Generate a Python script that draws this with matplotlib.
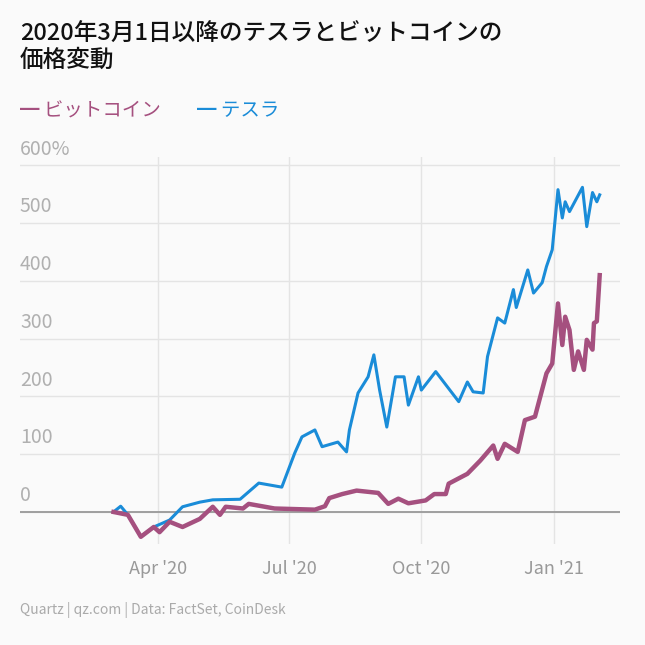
import datetime as dt
import matplotlib
matplotlib.use("Agg")
import matplotlib.pyplot as plt
import matplotlib.dates as mdates

plt.rcParams['font.family'] = ['Noto Sans CJK JP', 'DejaVu Sans']

START = dt.date(2020, 3, 1)
TSLA_DAY = [0, 5, 10, 19, 28, 39, 48, 60, 69, 88, 101, 117, 126, 131, 140, 145, 156, 162, 164,
            170, 177, 181, 185, 190, 196, 202, 205, 212, 214, 224, 232, 240, 246, 250, 257, 260,
            267, 272, 278, 280, 288, 292, 298, 301, 305, 309, 312, 314, 317, 326, 329, 333, 336, 338]
TSLA_VAL = [0, 10, -5, -43, -26, -14, 9, 17, 21, 22, 50, 43, 102, 130, 142, 113, 121, 104, 142,
            206, 234, 272, 211, 147, 234, 234, 185, 234, 211, 243, 217, 191, 225, 208, 206, 269,
            336, 327, 385, 354, 419, 379, 397, 425, 454, 558, 509, 537, 520, 562, 494, 553, 537, 549]
BTC_DAY = [0, 10, 19, 28, 32, 39, 48, 60, 69, 74, 78, 90, 94, 112, 140, 147, 150, 159, 169, 184,
           191, 198, 205, 217, 223, 231, 233, 246, 255, 264, 267, 272, 281, 286, 293, 301, 305,
           309, 312, 314, 317, 320, 323, 327, 329, 333, 334, 336, 338]
BTC_VAL = [0, -5, -43, -26, -35, -17, -26, -12, 9, -5, 9, 6, 14, 6, 4, 10, 24, 31, 37, 33,
           14, 23, 15, 20, 31, 31, 49, 66, 89, 115, 92, 118, 104, 159, 165, 240, 257,
           361, 289, 338, 315, 246, 278, 246, 298, 281, 327, 330, 410]

BLUE = "#1a8cd8"
PINK = "#a5507f"
BG = "#fafafa"
X0 = dt.date(2019, 12, 27)

def to_dates(days):
    return [START + dt.timedelta(days=d) for d in days]

fig = plt.figure(figsize=(6.45, 6.45), dpi=100, facecolor=BG)
ax = fig.add_axes([0.031, 0.157, 0.93, 0.6], facecolor=BG)

ax.plot(to_dates(TSLA_DAY), TSLA_VAL, color=BLUE, lw=2.2, zorder=3)
ax.plot(to_dates(BTC_DAY), BTC_VAL, color=PINK, lw=3.2, zorder=4)

ax.set_ylim(-55, 615)
ax.set_xlim(X0, dt.date(2021, 2, 16))
ax.set_yticks(range(0, 601, 100))
ax.tick_params(axis='y', length=0, labelleft=False)
ax.grid(axis='y', color='#e4e4e4', lw=1)
ax.axhline(0, color='#999999', lw=1.3, zorder=2)
for v in range(0, 601, 100):
    ax.text(X0, v + 10, "600%" if v == 600 else str(v),
            color='#b0b0b0', fontsize=14, va='bottom', ha='left')

ax.set_xticks([dt.date(2020, 4, 1), dt.date(2020, 7, 1), dt.date(2020, 10, 1), dt.date(2021, 1, 1)])
ax.xaxis.set_major_formatter(mdates.DateFormatter("%b '%y"))
ax.grid(axis='x', color='#e4e4e4', lw=1)
ax.tick_params(axis='x', length=0, labelcolor='#999999', labelsize=13, pad=12)
for s in ax.spines.values():
    s.set_visible(False)

fig.text(0.031, 0.965, "2020年3月1日以降のテスラとビットコインの\n価格変動", fontsize=17,
         va='top', ha='left', linespacing=1.2, color='#111111', weight='medium')
fig.text(0.031, 0.828, "━ ビットコイン", color=PINK, fontsize=14, va='center')
fig.text(0.305, 0.828, "━ テスラ", color=BLUE, fontsize=14, va='center')
fig.text(0.031, 0.055, "Quartz | qz.com | Data: FactSet, CoinDesk", color='#aaaaaa',
         fontsize=10, va='center')

fig.savefig("out.png", dpi=100, facecolor=BG)
